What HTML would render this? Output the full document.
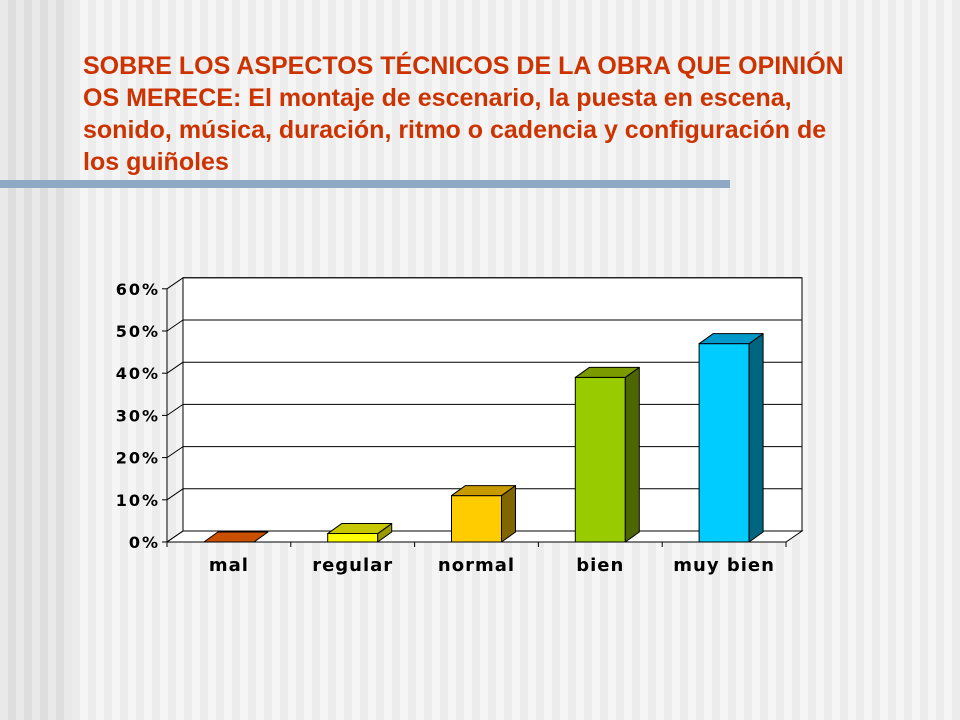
<!DOCTYPE html>
<html><head><meta charset="utf-8">
<style>
body{margin:0;width:960px;height:720px;overflow:hidden;font-family:"Liberation Sans",sans-serif;}
#bg{position:absolute;left:0;top:0;width:960px;height:720px;
background:repeating-linear-gradient(90deg,#f5f5f5 0 8px,#ececec 8px 16px);}
#left{position:absolute;left:0;top:0;width:72px;height:720px;
background:repeating-linear-gradient(90deg,#e9e9e9 0 8px,#dedede 8px 16px);}
#rule{position:absolute;left:0;top:180px;width:730px;height:8px;background:#8ea8c6;}
#title{position:absolute;left:83px;top:50px;width:870px;color:#cc3300;font-weight:bold;font-size:25px;line-height:32px;white-space:nowrap;}
svg{position:absolute;left:0;top:0;}
</style></head><body>
<div id="bg"></div>
<div id="left"></div>
<div id="title">SOBRE LOS ASPECTOS TÉCNICOS DE LA OBRA QUE OPINIÓN<br>OS MERECE: El montaje de escenario, la puesta en escena,<br>sonido, música, duración, ritmo o cadencia y configuración de<br>los guiñoles</div>
<div id="rule"></div>
<svg id="chart" width="960" height="720"></svg>
<script>
const categories=["mal","regular","normal","bien","muy bien"];
const values=[0,2,11,39,47];
const tickValues=[0,10,20,30,40,50,60];
const tickLabels=["0%","10%","20%","30%","40%","50%","60%"];
const frontColors=["#c85000","#ffff00","#ffcc00","#99cc00","#00ccff"];
const topColors=["#c85000","#c8c800","#c89a00","#7a9a00","#0099cc"];
const sideColors=["#803000","#999900","#806600","#4d6600","#006680"];

const NS="http://www.w3.org/2000/svg";
const svg=document.getElementById('chart');
const X0=167,X1=786,Y0=542,PX_PER=4.22,DX=16,DY=-11,BDX=14,BDY=-10,BW=50;
const yS=v=>Y0-v*PX_PER;
const band=(X1-X0)/categories.length;
const xC=i=>X0+band*(i+0.5);
function mk(tag,attrs){const e=document.createElementNS(NS,tag);for(const k in attrs)e.setAttribute(k,attrs[k]);svg.appendChild(e);return e;}
function pts(a){return a.map(p=>p.join(',')).join(' ');}

let w=mk('rect',{x:X0+DX,y:yS(60)+DY,width:X1-X0,height:60*PX_PER,fill:'#fff',stroke:'#000','stroke-width':1});


let fl=mk('polygon',{points:pts([[X0,Y0],[X1,Y0],[X1+DX,Y0+DY],[X0+DX,Y0+DY]]),fill:'#fff',stroke:'#000','stroke-width':1});


tickValues.forEach((v,i)=>{
  const y=yS(v);
  let g=mk('line',{x1:X0+DX,y1:y+DY,x2:X1+DX,y2:y+DY,stroke:'#000','stroke-width':1});
  
  
  let d=mk('line',{x1:X0,y1:y,x2:X0+DX,y2:y+DY,stroke:'#000','stroke-width':1});
  
  
  let t=mk('line',{x1:X0-5,y1:y,x2:X0,y2:y,stroke:'#000','stroke-width':1});
  
  
  let tx=mk('text',{x:X0-7,y:y+6,'text-anchor':'end','font-family':'"DejaVu Sans",sans-serif','font-weight':'bold','font-size':'16','letter-spacing':'2',fill:'#000'});
  tx.textContent=tickLabels[i];
  
  
});
let ya=mk('line',{x1:X0,y1:yS(0),x2:X0,y2:yS(60),stroke:'#000'});


let ya2=mk('line',{x1:X0+DX,y1:yS(0)+DY,x2:X0+DX,y2:yS(60)+DY,stroke:'#000'});


for(let i=0;i<=categories.length;i++){
  const x=X0+band*i;
  let t=mk('line',{x1:x,y1:Y0,x2:x,y2:Y0+5,stroke:'#000'});
  
  
}
categories.forEach((c,i)=>{
  const xl=xC(i)-BW/2,xr=xl+BW,yt=yS(values[i]);
  const g=document.createElementNS(NS,'g');svg.appendChild(g);
  
  
  const add=(p,f)=>{const e=document.createElementNS(NS,'polygon');e.setAttribute('points',pts(p));e.setAttribute('fill',f);e.setAttribute('stroke','#000');e.setAttribute('stroke-width','1');e.setAttribute('stroke-linejoin','round');g.appendChild(e);};
  add([[xl,Y0],[xr,Y0],[xr,yt],[xl,yt]],frontColors[i]);
  add([[xr,Y0],[xr+BDX,Y0+BDY],[xr+BDX,yt+BDY],[xr,yt]],sideColors[i]);
  add([[xl,yt],[xr,yt],[xr+BDX,yt+BDY],[xl+BDX,yt+BDY]],topColors[i]);
  let lb=mk('text',{x:xC(i),y:571,'text-anchor':'middle','font-family':'"DejaVu Sans",sans-serif','font-weight':'bold','font-size':'18','letter-spacing':'1',fill:'#000'});
  lb.textContent=c;
  
  
});
</script>
</body></html>
